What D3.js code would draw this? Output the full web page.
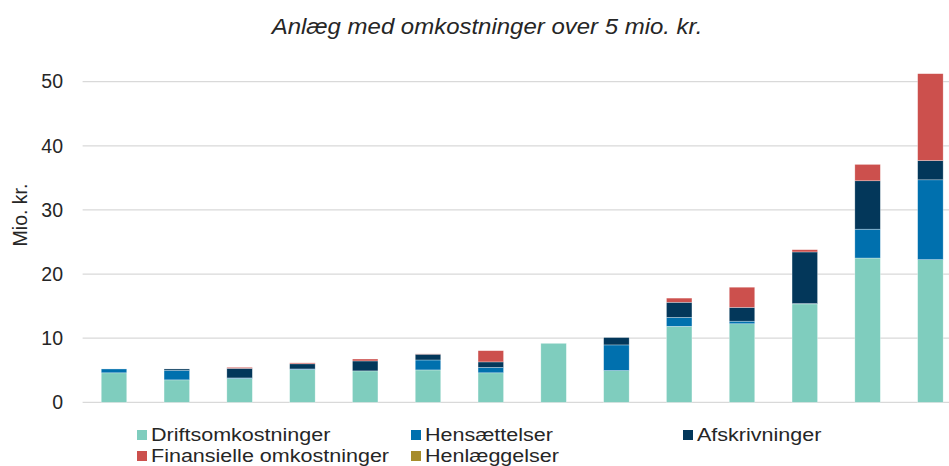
<!DOCTYPE html>
<html>
<head>
  <meta charset="utf-8">
  <title>Anlæg med omkostninger over 5 mio. kr.</title>
  <style>
    body { margin: 0; background: #fff; }
    svg text { font-family: "Liberation Sans", Arial, sans-serif; fill: #262626; }
  </style>
</head>
<body>
  <svg width="949" height="466" class="chart"></svg>

  <script src="https://d3js.org/d3.v7.min.js"></script>
  <script type="text/javascript">

  // one entry per plant (no labels on the x axis)
  var categories = ["1","2","3","4","5","6","7","8","9","10","11","12","13","14"];

  var drift   = [4.6, 3.5, 3.7, 5.1, 4.9, 5.05, 4.6, 9.2, 4.95, 11.85, 12.25, 15.35, 22.5, 22.25];
  var hens    = [0.6, 1.5, 0.1, 0.1, 0.0, 1.55, 0.85, 0.0, 4.0, 1.4, 0.4, 0.05, 4.5, 12.45];
  var afskr   = [0.0, 0.2, 1.5, 0.8, 1.55, 0.9, 0.85, 0.0, 1.15, 2.35, 2.15, 8.05, 7.55, 3.0];
  var finans  = [0.0, 0.0, 0.15, 0.15, 0.3, 0.05, 1.75, 0.0, 0.0, 0.65, 3.15, 0.35, 2.55, 13.55];
  var henl    = [0, 0, 0, 0, 0, 0, 0, 0, 0, 0, 0, 0, 0, 0];

  var seriesNames = ["Driftsomkostninger", "Hensættelser", "Afskrivninger", "Finansielle omkostninger", "Henlæggelser"];
  var seriesColors = ["#7fcdbe", "#0070ae", "#03375a", "#cc504d", "#a68c2b"];
  var yTicks = [0, 10, 20, 30, 40, 50];

  var svg = d3.select(".chart");

  // table for d3.stack
  var rows = categories.map(function(c, i) {
    return {
      cat: c,
      "Driftsomkostninger": drift[i],
      "Hensættelser": hens[i],
      "Afskrivninger": afskr[i],
      "Finansielle omkostninger": finans[i],
      "Henlæggelser": henl[i]
    };
  });

  // NB: don't call these top/left etc, window.top is read only
  var plotLeft = 82.6, plotRight = 961.8, plotTop = 81.7, plotBottom = 402.3;

  var x = d3.scaleBand()
    .domain(categories)
    .range([plotLeft, plotRight])
    .paddingInner(0.594)
    .paddingOuter(0.297);

  var y = d3.scaleLinear()
    .domain([0, 50])
    .range([plotBottom, plotTop]);

  // gridlines
  svg.append("g")
    .selectAll("line")
    .data(yTicks)
    .enter().append("line")
    .attr("x1", plotLeft)
    .attr("x2", 949)
    .attr("y1", function(d) { return y(d); })
    .attr("y2", function(d) { return y(d); })
    .attr("stroke", "#d9d9d9")
    .attr("stroke-width", 1.3);

  // y axis labels
  var yAxis = d3.axisLeft(y).tickValues(yTicks).tickSize(0).tickPadding(0);
  var gy = svg.append("g")
    .attr("transform", "translate(63,0)")
    .call(yAxis);
  gy.select(".domain").remove();
  gy.selectAll("text")
    .style("font-family", '"Liberation Sans", Arial, sans-serif')
    .style("font-size", "19.5px")
    .style("fill", "#262626");

  // stacked bars
  var stack = d3.stack().keys(seriesNames);
  var layers = stack(rows);

  svg.append("g")
    .selectAll("g")
    .data(layers)
    .enter().append("g")
    .attr("fill", function(d, i) { return seriesColors[i]; })
    .selectAll("rect")
    .data(function(d) { return d; })
    .enter().append("rect")
    .attr("x", function(d) { return x(d.data.cat); })
    .attr("width", x.bandwidth())
    .attr("y", function(d) { return y(d[1]); })
    .attr("height", function(d) { return Math.max(0, y(d[0]) - y(d[1])); })
    .attr("stroke", "rgba(255,255,255,0.5)")
    .attr("stroke-width", function(d) { return d[1] - d[0] > 0 ? 0.6 : 0; });

  // title (the reference text is a bit stretched sideways)
  svg.append("text")
    .attr("transform", "translate(487,34) scale(1.09,1)")
    .attr("text-anchor", "middle")
    .style("font-size", "22px")
    .style("font-style", "italic")
    .text("Anlæg med omkostninger over 5 mio. kr.");

  // y axis title
  svg.append("text")
    .attr("transform", "translate(27,215) rotate(-90)")
    .attr("text-anchor", "middle")
    .style("font-size", "19.5px")
    .text("Mio. kr.");

  // legend
  var legendPos = [[137, 435], [411, 435], [683, 435], [137, 456], [411, 456]];
  var legend = svg.append("g")
    .selectAll("g")
    .data(seriesNames)
    .enter().append("g")
    .attr("transform", function(d, i) { return "translate(" + legendPos[i][0] + "," + legendPos[i][1] + ")"; });

  legend.append("rect")
    .attr("x", 0)
    .attr("y", -5)
    .attr("width", 10)
    .attr("height", 10)
    .attr("fill", function(d, i) { return seriesColors[i]; });

  legend.append("text")
    .attr("transform", "translate(14,0) scale(1.23,1)")
    .attr("dy", "0.36em")
    .style("font-size", "17.5px")
    .text(function(d) { return d; });

  </script>
</body>
</html>
